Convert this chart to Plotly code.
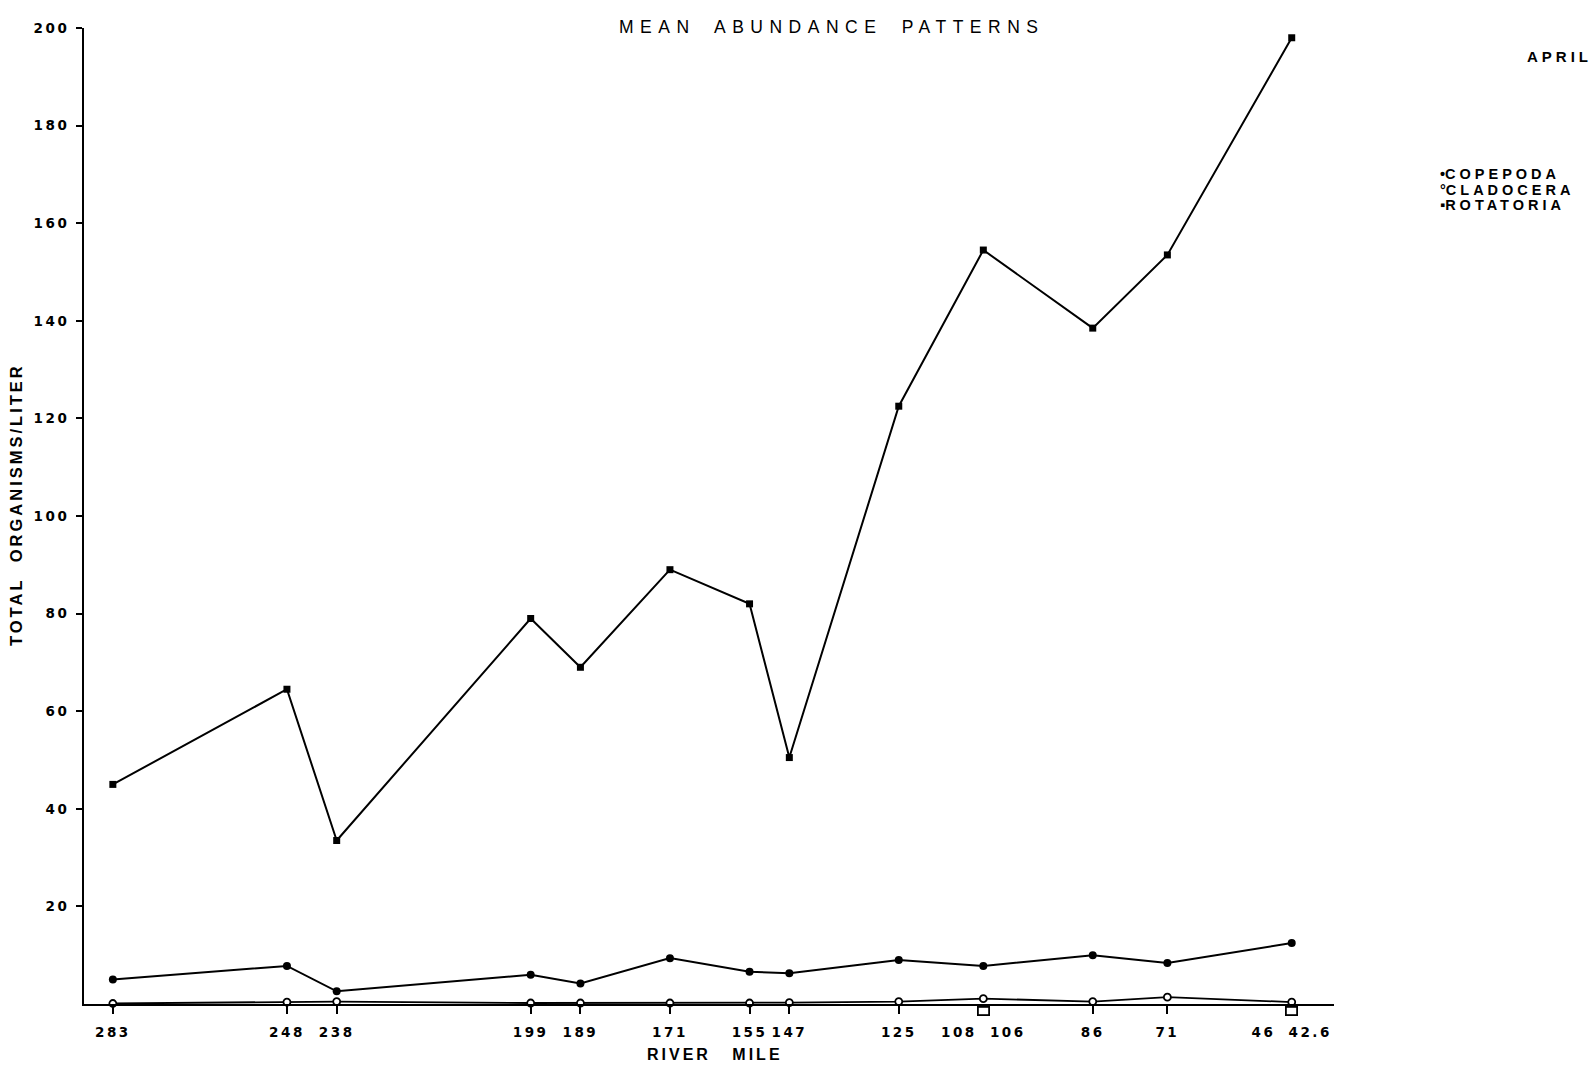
import plotly.graph_objects as go

# Sampling stations (river mile) and the labels printed under each tick
river_mile = [283, 248, 238, 199, 189, 171, 155, 147, 125, 108, 86, 71, 46]
mile_labels = ["283", "248", "238", "199", "189", "171", "155", "147", "125",
               "108 106", "86", "71", "46 42.6"]

# Mean abundance, organisms per liter
copepoda = [5.0, 7.8, 2.6, 6.0, 4.2, 9.4, 6.6, 6.3, 9.0, 7.8, 10.0, 8.4, 12.5]
cladocera = [0.1, 0.4, 0.5, 0.2, 0.2, 0.2, 0.2, 0.3, 0.5, 1.1, 0.5, 1.4, 0.4]
rotatoria = [45.0, 64.5, 33.5, 79.0, 69.0, 89.0, 82.0, 50.5, 122.5, 154.5,
             138.5, 153.5, 198.0]

# Stations with paired mile labels get an open square under the axis
paired_miles = [108, 46]

y_ticks = [20, 40, 60, 80, 100, 120, 140, 160, 180, 200]

# Page and plot-area geometry (pixels)
W, H = 1596, 1070
PL, PR, PT, PB = 84, 1334, 28, 1004

INK = "#000000"
TEXT_FONT = "Liberation Sans"
NUM_FONT = "DejaVu Sans"


def px_x(px):
    return (px - PL) / (PR - PL)


def px_y(py):
    return (PB - py) / (PB - PT)


def spaced(text, ls, ws=0):
    return f'<span style="letter-spacing:{ls}px;word-spacing:{ws}px">{text}</span>'


fig = go.Figure()

fig.add_trace(go.Scatter(
    x=river_mile, y=cladocera, mode="lines+markers", name="CLADOCERA",
    line=dict(color=INK, width=1.8),
    marker=dict(symbol="circle", size=7, color="white",
                line=dict(color=INK, width=1.8)),
    cliponaxis=False,
))
fig.add_trace(go.Scatter(
    x=river_mile, y=copepoda, mode="lines+markers", name="COPEPODA",
    line=dict(color=INK, width=2),
    marker=dict(symbol="circle", size=8, color=INK),
    cliponaxis=False,
))
fig.add_trace(go.Scatter(
    x=river_mile, y=rotatoria, mode="lines+markers", name="ROTATORIA",
    line=dict(color=INK, width=2),
    marker=dict(symbol="square", size=7, color=INK),
    cliponaxis=False,
))

annotations = []

# Open squares hanging under the axis at the paired stations
for m in paired_miles:
    annotations.append(dict(
        x=m, y=0, xref="x", yref="y", text=" ", showarrow=False,
        xanchor="center", yanchor="top", yshift=-2,
        width=9, height=6, borderpad=0, borderwidth=1.8, bordercolor=INK,
        bgcolor="white", font=dict(size=4),
    ))

# Title, month and axis titles
annotations.append(dict(
    x=px_x(831), y=px_y(27), xref="paper", yref="paper",
    text=spaced("MEAN ABUNDANCE PATTERNS", 6.5, 8),
    showarrow=False, xanchor="center", yanchor="middle",
    font=dict(family=TEXT_FONT, size=17.5, color=INK),
))
annotations.append(dict(
    x=px_x(1594), y=px_y(57), xref="paper", yref="paper",
    text=spaced("APRIL", 4), showarrow=False, xanchor="right", yanchor="middle",
    font=dict(family=TEXT_FONT, size=15, color=INK, weight="bold"),
))
annotations.append(dict(
    x=px_x(715), y=px_y(1054), xref="paper", yref="paper",
    text=spaced("RIVER MILE", 3, 14), showarrow=False,
    xanchor="center", yanchor="middle",
    font=dict(family=TEXT_FONT, size=16, color=INK, weight="bold"),
))
annotations.append(dict(
    x=px_x(16), y=px_y(505), xref="paper", yref="paper",
    text=spaced("TOTAL ORGANISMS/LITER", 3, 8), showarrow=False, textangle=-90,
    xanchor="center", yanchor="middle",
    font=dict(family=TEXT_FONT, size=16.5, color=INK, weight="bold"),
))

# Key in the upper right
key_lines = [("•", "COPEPODA"), ("°", "CLADOCERA"), ("▪", "ROTATORIA")]
for i, (sym, name) in enumerate(key_lines):
    annotations.append(dict(
        x=px_x(1438), y=px_y(174 + 15.5 * i), xref="paper", yref="paper",
        text=sym + spaced(name, 4), showarrow=False,
        xanchor="left", yanchor="middle",
        font=dict(family=TEXT_FONT, size=14.5, color=INK, weight="bold"),
    ))

tick_font = dict(family=NUM_FONT, size=13.5, color=INK, weight="bold")

fig.update_layout(
    width=W, height=H,
    margin=dict(l=PL, r=W - PR, t=PT, b=H - PB, pad=0),
    paper_bgcolor="white", plot_bgcolor="white",
    showlegend=False,
    annotations=annotations,
    xaxis=dict(
        range=[288.8, 37.5],
        tickmode="array", tickvals=river_mile,
        ticktext=[spaced(t, 2.5, 6) for t in mile_labels],
        ticks="outside", ticklen=8, tickwidth=1.6, tickcolor=INK,
        tickangle=0, tickfont=tick_font, ticklabelstandoff=7,
        showline=True, linecolor=INK, linewidth=2,
        showgrid=False, zeroline=False,
    ),
    yaxis=dict(
        range=[0, 200],
        tickmode="array", tickvals=y_ticks,
        ticktext=[spaced(str(v), 2.5) for v in y_ticks],
        ticks="outside", ticklen=6, tickwidth=1.6, tickcolor=INK,
        tickfont=tick_font, ticklabelstandoff=4,
        showline=True, linecolor=INK, linewidth=2,
        showgrid=False, zeroline=False,
    ),
)

fig.write_html("out.html")
